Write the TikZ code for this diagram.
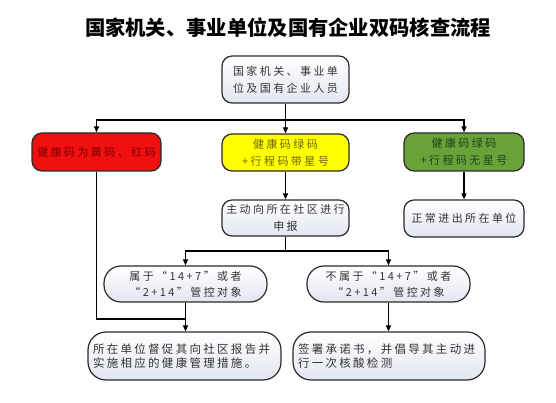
\documentclass[tikz,border=0pt]{standalone}
\usepackage{fontspec}
\setmainfont{Noto Sans CJK SC}
\usetikzlibrary{arrows.meta}
\definecolor{bord}{HTML}{2A2A2A}
\definecolor{txtg}{HTML}{333333}
\definecolor{shadeB}{HTML}{E2E6F0}
\definecolor{redfill}{HTML}{F01010}
\definecolor{redtxt}{HTML}{7A0000}
\definecolor{yelfill}{HTML}{FFFF00}
\definecolor{yeltxt}{HTML}{6E6400}
\definecolor{grnfill}{HTML}{6AA23A}
\definecolor{grntxt}{HTML}{22401A}
\tikzset{
  basebox/.style={draw=bord, line width=1.2pt, rounded corners=10pt, inner sep=2pt, align=center,
    font=\fontsize{11}{17}\selectfont\addfontfeature{LetterSpace=22}},
  wbox/.style={basebox, top color=white, bottom color=shadeB, text=txtg},
  pillbox/.style={wbox, rounded corners=17pt, font=\fontsize{11}{16}\selectfont\addfontfeature{LetterSpace=22}},
  lowbox/.style={wbox, rounded corners=18pt, align=left, inner sep=5pt,
    font=\fontsize{11.5}{14.5}\selectfont\addfontfeature{LetterSpace=20}},
  conn/.style={draw=black, line width=1.1pt},
  arr/.style={conn, -{Triangle[length=6pt,width=5pt]}}
}
\begin{document}
\begin{tikzpicture}[x=1pt,y=-1pt]
\useasboundingbox (0,0) rectangle (556,403);
\node (title) at (288,28) {\fontsize{20.3}{22}\selectfont\bfseries 国家机关、事业单位及国有企业双码核查流程};

\node[wbox, minimum width=127pt, minimum height=47pt] (top) at (285.5,79.5) {国家机关、事业单\\位及国有企业人员};

\node[basebox, fill=redfill, text=redtxt, minimum width=129pt, minimum height=38pt] (red) at (96.5,152) {健康码为黄码、红码};
\node[basebox, fill=yelfill, text=yeltxt, minimum width=127pt, minimum height=37pt] (yellow) at (285.5,152.5) {健康码绿码\\+行程码带星号};
\node[basebox, fill=grnfill, text=grntxt, minimum width=120pt, minimum height=38pt] (green) at (464,152) {健康码绿码\\+行程码无星号};

\node[wbox, minimum width=127pt, minimum height=36pt] (report) at (285.5,218) {主动向所在社区进行\\申报};
\node[wbox, minimum width=120pt, minimum height=37pt] (normal) at (464,218.5) {正常进出所在单位};

\node[pillbox, minimum width=163pt, minimum height=36pt] (belong) at (185.5,284) {属于“14+7”或者\\“2+14”管控对象};
\node[pillbox, minimum width=163pt, minimum height=36pt] (notbelong) at (388.5,284) {不属于“14+7”或者\\“2+14”管控对象};

\node[lowbox, text width=183pt, minimum height=48pt] (bl) at (184.5,356) {所在单位督促其向社区报告并\\实施相应的健康管理措施。};
\node[lowbox, text width=182pt, minimum height=48pt] (br) at (389,356) {签署承诺书，并倡导其主动进\\行一次核酸检测};

\coordinate (j1) at (285.5,120);
\coordinate (j2) at (285.5,251);
\coordinate (j3) at (185.5,319);

\draw[conn] (top) -- (j1);
\draw[arr] (j1) -| (red);
\draw[arr] (j1) -- (yellow);
\draw[arr] (j1) -| (green);
\draw[arr] (yellow) -- (report);
\draw[arr] (green) -- (normal);
\draw[conn] (report) -- (j2);
\draw[arr] (j2) -| (belong);
\draw[arr] (j2) -| (notbelong);
\draw[arr] (belong) -- (belong |- bl.north);
\draw[arr] (notbelong) -- (notbelong |- br.north);
\draw[conn] (red) |- (j3);
\end{tikzpicture}
\end{document}
